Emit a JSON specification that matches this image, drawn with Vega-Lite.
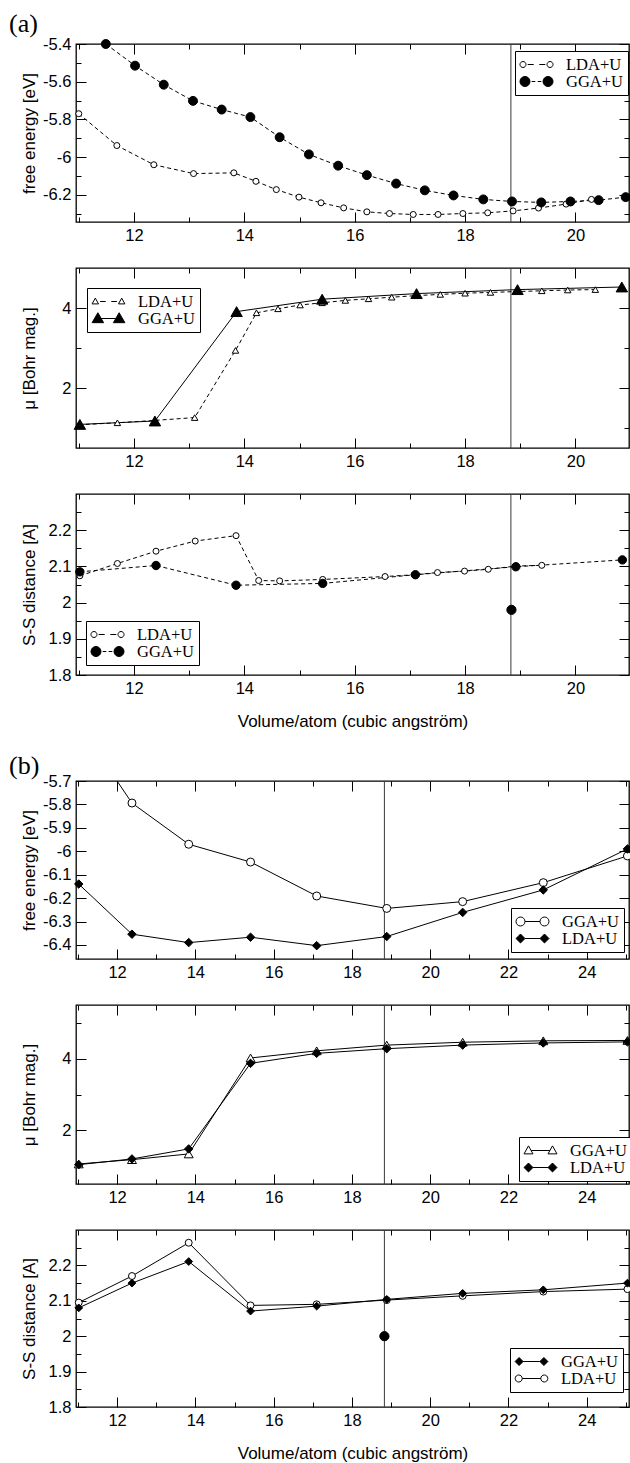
{
  "$schema": "https://vega.github.io/schema/vega-lite/v6.json",
  "background": "white",
  "padding": {"top": 10, "left": 8, "right": 0, "bottom": 0},
  "bounds": "flush",
  "spacing": 46,
  "resolve": {
    "scale": {"shape": "independent", "fill": "independent", "stroke": "independent"},
    "legend": {"shape": "independent", "fill": "independent", "stroke": "independent"}
  },
  "config": {
    "view": {"stroke": "black", "strokeWidth": 1.3},
    "axis": {"domain": false, "grid": false, "offset": -10, "tickSize": 10, "tickColor": "black", "tickWidth": 1, "labelFont": "Liberation Sans", "labelFontSize": 16.5, "labelColor": "black", "labelFlush": false, "labelOverlap": false, "labelPadding": 5, "titleFont": "Liberation Sans", "titleFontSize": 17, "titleFontWeight": "normal", "titleColor": "black"},
    "axisLeft": {"minExtent": 44, "maxExtent": 44, "titlePadding": 4},
    "axisRight": {"minExtent": 0, "maxExtent": 0},
    "axisTop": {"minExtent": 0, "maxExtent": 0},
    "axisBottom": {"minExtent": 34, "maxExtent": 34, "titlePadding": 14},
    "title": {"font": "Liberation Serif", "fontSize": 26, "fontWeight": "normal", "color": "black", "anchor": "start", "frame": "group"},
    "legend": {"orient": "none", "symbolSize": 256, "symbolStrokeWidth": 1, "symbolStrokeColor": "black", "symbolOffset": 8, "labelOffset": 21, "labelFont": "Liberation Serif", "labelFontSize": 16.5, "labelColor": "black", "strokeColor": "black", "fillColor": "white", "padding": 5, "rowPadding": 0, "cornerRadius": 0}
  },
  "datasets": {
    "eq_volume": [{"volume": 18.83}],
    "a_energy": [
      {"method": "LDA+U", "volume": 11.0, "value": -5.77},
      {"method": "LDA+U", "volume": 11.69, "value": -5.939},
      {"method": "LDA+U", "volume": 12.36, "value": -6.041},
      {"method": "LDA+U", "volume": 13.08, "value": -6.088},
      {"method": "LDA+U", "volume": 13.81, "value": -6.084},
      {"method": "LDA+U", "volume": 14.21, "value": -6.129},
      {"method": "LDA+U", "volume": 14.58, "value": -6.173},
      {"method": "LDA+U", "volume": 14.99, "value": -6.213},
      {"method": "LDA+U", "volume": 15.39, "value": -6.243},
      {"method": "LDA+U", "volume": 15.8, "value": -6.27},
      {"method": "LDA+U", "volume": 16.22, "value": -6.291},
      {"method": "LDA+U", "volume": 16.63, "value": -6.3},
      {"method": "LDA+U", "volume": 17.06, "value": -6.305},
      {"method": "LDA+U", "volume": 17.51, "value": -6.305},
      {"method": "LDA+U", "volume": 17.96, "value": -6.3},
      {"method": "LDA+U", "volume": 18.41, "value": -6.296},
      {"method": "LDA+U", "volume": 18.87, "value": -6.286},
      {"method": "LDA+U", "volume": 19.33, "value": -6.271},
      {"method": "LDA+U", "volume": 19.83, "value": -6.25},
      {"method": "LDA+U", "volume": 20.29, "value": -6.225},
      {"method": "GGA+U", "volume": 11.49, "value": -5.4},
      {"method": "GGA+U", "volume": 12.02, "value": -5.515},
      {"method": "GGA+U", "volume": 12.54, "value": -5.616},
      {"method": "GGA+U", "volume": 13.07, "value": -5.702},
      {"method": "GGA+U", "volume": 13.59, "value": -5.748},
      {"method": "GGA+U", "volume": 14.11, "value": -5.788},
      {"method": "GGA+U", "volume": 14.64, "value": -5.895},
      {"method": "GGA+U", "volume": 15.17, "value": -5.986},
      {"method": "GGA+U", "volume": 15.7, "value": -6.046},
      {"method": "GGA+U", "volume": 16.22, "value": -6.096},
      {"method": "GGA+U", "volume": 16.75, "value": -6.141},
      {"method": "GGA+U", "volume": 17.27, "value": -6.177},
      {"method": "GGA+U", "volume": 17.79, "value": -6.204},
      {"method": "GGA+U", "volume": 18.33, "value": -6.225},
      {"method": "GGA+U", "volume": 18.85, "value": -6.236},
      {"method": "GGA+U", "volume": 19.38, "value": -6.241},
      {"method": "GGA+U", "volume": 19.91, "value": -6.236},
      {"method": "GGA+U", "volume": 20.42, "value": -6.229},
      {"method": "GGA+U", "volume": 20.91, "value": -6.213}
    ],
    "a_moment": [
      {"method": "LDA+U", "volume": 11.0, "value": 1.08},
      {"method": "LDA+U", "volume": 11.7, "value": 1.13},
      {"method": "LDA+U", "volume": 12.38, "value": 1.19},
      {"method": "LDA+U", "volume": 13.1, "value": 1.26},
      {"method": "LDA+U", "volume": 13.84, "value": 2.94},
      {"method": "LDA+U", "volume": 14.22, "value": 3.88},
      {"method": "LDA+U", "volume": 14.61, "value": 3.98},
      {"method": "LDA+U", "volume": 15.01, "value": 4.075},
      {"method": "LDA+U", "volume": 15.41, "value": 4.13},
      {"method": "LDA+U", "volume": 15.83, "value": 4.19},
      {"method": "LDA+U", "volume": 16.25, "value": 4.23},
      {"method": "LDA+U", "volume": 16.67, "value": 4.27},
      {"method": "LDA+U", "volume": 17.12, "value": 4.31},
      {"method": "LDA+U", "volume": 17.55, "value": 4.34},
      {"method": "LDA+U", "volume": 18.0, "value": 4.37},
      {"method": "LDA+U", "volume": 18.46, "value": 4.39},
      {"method": "LDA+U", "volume": 18.92, "value": 4.41},
      {"method": "LDA+U", "volume": 19.39, "value": 4.43},
      {"method": "LDA+U", "volume": 19.86, "value": 4.45},
      {"method": "LDA+U", "volume": 20.36, "value": 4.46},
      {"method": "GGA+U", "volume": 11.02, "value": 1.09},
      {"method": "GGA+U", "volume": 12.38, "value": 1.175},
      {"method": "GGA+U", "volume": 13.86, "value": 3.91},
      {"method": "GGA+U", "volume": 15.41, "value": 4.22},
      {"method": "GGA+U", "volume": 17.12, "value": 4.36},
      {"method": "GGA+U", "volume": 18.95, "value": 4.46},
      {"method": "GGA+U", "volume": 20.84, "value": 4.525}
    ],
    "a_ss": [
      {"method": "LDA+U", "volume": 11.02, "value": 2.074},
      {"method": "LDA+U", "volume": 11.7, "value": 2.108},
      {"method": "LDA+U", "volume": 12.4, "value": 2.142},
      {"method": "LDA+U", "volume": 13.11, "value": 2.17},
      {"method": "LDA+U", "volume": 13.85, "value": 2.185},
      {"method": "LDA+U", "volume": 14.26, "value": 2.061},
      {"method": "LDA+U", "volume": 14.64, "value": 2.06},
      {"method": "LDA+U", "volume": 15.42, "value": 2.064},
      {"method": "LDA+U", "volume": 16.55, "value": 2.072},
      {"method": "LDA+U", "volume": 17.08, "value": 2.077},
      {"method": "LDA+U", "volume": 17.5, "value": 2.083},
      {"method": "LDA+U", "volume": 17.99, "value": 2.087},
      {"method": "LDA+U", "volume": 18.42, "value": 2.092},
      {"method": "LDA+U", "volume": 18.92, "value": 2.101},
      {"method": "LDA+U", "volume": 19.39, "value": 2.103},
      {"method": "GGA+U", "volume": 11.02, "value": 2.085},
      {"method": "GGA+U", "volume": 12.4, "value": 2.1025},
      {"method": "GGA+U", "volume": 13.85, "value": 2.048},
      {"method": "GGA+U", "volume": 15.42, "value": 2.053},
      {"method": "GGA+U", "volume": 17.1, "value": 2.077},
      {"method": "GGA+U", "volume": 18.92, "value": 2.099},
      {"method": "GGA+U", "volume": 20.85, "value": 2.118}
    ],
    "a_ss_extra": [{"volume": 18.84, "value": 1.98}],
    "b_energy": [
      {"method": "GGA+U", "volume": 11.02, "value": -5.458},
      {"method": "GGA+U", "volume": 12.38, "value": -5.794},
      {"method": "GGA+U", "volume": 13.83, "value": -5.97},
      {"method": "GGA+U", "volume": 15.41, "value": -6.046},
      {"method": "GGA+U", "volume": 17.1, "value": -6.191},
      {"method": "GGA+U", "volume": 18.89, "value": -6.244},
      {"method": "GGA+U", "volume": 20.83, "value": -6.215},
      {"method": "GGA+U", "volume": 22.89, "value": -6.134},
      {"method": "GGA+U", "volume": 25.04, "value": -6.02},
      {"method": "LDA+U", "volume": 11.02, "value": -6.14},
      {"method": "LDA+U", "volume": 12.38, "value": -6.354},
      {"method": "LDA+U", "volume": 13.83, "value": -6.39},
      {"method": "LDA+U", "volume": 15.41, "value": -6.367},
      {"method": "LDA+U", "volume": 17.1, "value": -6.403},
      {"method": "LDA+U", "volume": 18.89, "value": -6.364},
      {"method": "LDA+U", "volume": 20.83, "value": -6.261},
      {"method": "LDA+U", "volume": 22.89, "value": -6.165},
      {"method": "LDA+U", "volume": 25.04, "value": -5.99}
    ],
    "b_moment": [
      {"method": "GGA+U", "volume": 11.02, "value": 1.06},
      {"method": "GGA+U", "volume": 12.38, "value": 1.18},
      {"method": "GGA+U", "volume": 13.83, "value": 1.34},
      {"method": "GGA+U", "volume": 15.41, "value": 4.02},
      {"method": "GGA+U", "volume": 17.1, "value": 4.22},
      {"method": "GGA+U", "volume": 18.89, "value": 4.38},
      {"method": "GGA+U", "volume": 20.83, "value": 4.46},
      {"method": "GGA+U", "volume": 22.89, "value": 4.5},
      {"method": "GGA+U", "volume": 25.04, "value": 4.51},
      {"method": "LDA+U", "volume": 11.02, "value": 1.04},
      {"method": "LDA+U", "volume": 12.38, "value": 1.2},
      {"method": "LDA+U", "volume": 13.83, "value": 1.48},
      {"method": "LDA+U", "volume": 15.41, "value": 3.87},
      {"method": "LDA+U", "volume": 17.1, "value": 4.15},
      {"method": "LDA+U", "volume": 18.89, "value": 4.28},
      {"method": "LDA+U", "volume": 20.83, "value": 4.38},
      {"method": "LDA+U", "volume": 22.89, "value": 4.44},
      {"method": "LDA+U", "volume": 25.04, "value": 4.47}
    ],
    "b_ss": [
      {"method": "GGA+U", "volume": 11.02, "value": 2.08},
      {"method": "GGA+U", "volume": 12.38, "value": 2.15},
      {"method": "GGA+U", "volume": 13.83, "value": 2.211},
      {"method": "GGA+U", "volume": 15.41, "value": 2.071},
      {"method": "GGA+U", "volume": 17.1, "value": 2.085},
      {"method": "GGA+U", "volume": 18.89, "value": 2.104},
      {"method": "GGA+U", "volume": 20.83, "value": 2.121},
      {"method": "GGA+U", "volume": 22.89, "value": 2.131},
      {"method": "GGA+U", "volume": 25.04, "value": 2.15},
      {"method": "LDA+U", "volume": 11.02, "value": 2.095},
      {"method": "LDA+U", "volume": 12.38, "value": 2.17},
      {"method": "LDA+U", "volume": 13.83, "value": 2.264},
      {"method": "LDA+U", "volume": 15.41, "value": 2.087},
      {"method": "LDA+U", "volume": 17.1, "value": 2.09},
      {"method": "LDA+U", "volume": 18.89, "value": 2.102},
      {"method": "LDA+U", "volume": 20.83, "value": 2.114},
      {"method": "LDA+U", "volume": 22.89, "value": 2.126},
      {"method": "LDA+U", "volume": 25.04, "value": 2.133}
    ],
    "b_ss_extra": [{"volume": 18.83, "value": 2.0}]
  },
  "vconcat": [
    {
      "width": 553, "height": 178,
      "title": {"text": "(a)", "dx": -67, "offset": -1},
      "layer": [
        {"data": {"name": "eq_volume"}, "mark": {"type": "rule", "color": "#3a3a3a", "strokeWidth": 1},
         "encoding": {"x": {"field": "volume", "type": "quantitative", "scale": {"domain": [10.95, 20.97], "nice": false, "zero": false},
           "axis": {"orient": "bottom", "values": [11,12,13,14,15,16,17,18,19,20], "tickDash": {"condition": {"test": "round(datum.value) % 2 === 0", "value": [10, 0]}, "value": [0, 5, 5, 0]}, "labelExpr": "round(datum.value) % 2 === 0 ? '' + datum.value : ''", "title": null}}}},
        {"data": {"name": "a_energy"}, "mark": {"type": "line", "color": "black", "strokeWidth": 1, "strokeDash": [4, 3]},
         "encoding": {
           "x": {"field": "volume", "type": "quantitative", "scale": {"domain": [10.95, 20.97], "nice": false, "zero": false},
             "axis": {"orient": "top", "values": [11,12,13,14,15,16,17,18,19,20], "tickDash": {"condition": {"test": "round(datum.value) % 2 === 0", "value": [10, 0]}, "value": [0, 5, 5, 0]}, "labels": false, "title": null}},
           "y": {"field": "value", "type": "quantitative", "scale": {"domain": [-6.345, -5.4], "nice": false, "zero": false},
             "axis": {"orient": "left", "values": [-6.3,-6.2,-6.1,-6,-5.9,-5.8,-5.7,-5.6,-5.5,-5.4], "tickDash": {"condition": {"test": "round(datum.value * 10) % 2 === 0", "value": [10, 0]}, "value": [0, 5, 5, 0]}, "labelExpr": "round(datum.value * 10) % 2 === 0 ? '' + datum.value : ''", "title": "free energy [eV]"}},
           "detail": {"field": "method", "type": "nominal"}}},
        {"data": {"name": "a_energy"}, "transform": [{"filter": "datum.method === 'LDA+U'"}],
         "mark": {"type": "point", "shape": "circle", "size": 36, "filled": true, "fill": "white", "stroke": "black", "strokeWidth": 1, "opacity": 1},
         "encoding": {
           "x": {"field": "volume", "type": "quantitative", "axis": null},
           "y": {"field": "value", "type": "quantitative",
             "axis": {"orient": "right", "values": [-6.3,-6.2,-6.1,-6,-5.9,-5.8,-5.7,-5.6,-5.5,-5.4], "tickDash": {"condition": {"test": "round(datum.value * 10) % 2 === 0", "value": [10, 0]}, "value": [0, 5, 5, 0]}, "labels": false, "title": null}}}},
        {"data": {"name": "a_energy"}, "transform": [{"filter": "datum.method === 'GGA+U'"}],
         "mark": {"type": "point", "shape": "circle", "size": 80, "filled": true, "fill": "black", "stroke": "black", "strokeWidth": 1, "opacity": 1},
         "encoding": {"x": {"field": "volume", "type": "quantitative", "axis": null}, "y": {"field": "value", "type": "quantitative", "axis": null}}},
        {"data": {"values": []}, "mark": {"type": "point", "filled": true, "stroke": "black", "strokeWidth": 1, "size": 256, "opacity": 1},
         "encoding": {
           "shape": {"field": "method", "type": "nominal", "scale": {"domain": ["LDA+U", "GGA+U"], "range": ["M-2.065,0A0.375 0.375 0 1 0 -1.315,0A0.375 0.375 0 1 0 -2.065,0ZM1.315,0A0.375 0.375 0 1 0 2.065,0A0.375 0.375 0 1 0 1.315,0ZM-1.1,0L-0.35,0M0.35,0L1.1,0", "M-2.065,0A0.625 0.625 0 1 0 -0.815,0A0.625 0.625 0 1 0 -2.065,0ZM0.815,0A0.625 0.625 0 1 0 2.065,0A0.625 0.625 0 1 0 0.815,0ZM-0.6,0L-0.15,0M0.15,0L0.6,0"]},
             "legend": {"title": null, "legendX": 439, "legendY": 7, "symbolStrokeColor": "black"}},
           "fill": {"field": "method", "type": "nominal", "scale": {"domain": ["LDA+U", "GGA+U"], "range": ["white", "black"]},
             "legend": {"title": null, "legendX": 439, "legendY": 7, "symbolStrokeColor": "black"}},
           "stroke": {"field": "method", "type": "nominal", "scale": {"domain": ["LDA+U", "GGA+U"], "range": ["black", "black"]},
             "legend": {"title": null, "legendX": 439, "legendY": 7, "symbolStrokeColor": "black"}}}}
      ],
      "resolve": {"axis": {"x": "independent", "y": "independent"}}
    },
    {
      "width": 553, "height": 180,
      "layer": [
        {"data": {"name": "eq_volume"}, "mark": {"type": "rule", "color": "#3a3a3a", "strokeWidth": 1},
         "encoding": {"x": {"field": "volume", "type": "quantitative", "scale": {"domain": [10.95, 20.97], "nice": false, "zero": false},
           "axis": {"orient": "bottom", "values": [11,12,13,14,15,16,17,18,19,20], "tickDash": {"condition": {"test": "round(datum.value) % 2 === 0", "value": [10, 0]}, "value": [0, 5, 5, 0]}, "labelExpr": "round(datum.value) % 2 === 0 ? '' + datum.value : ''", "title": null}}}},
        {"data": {"name": "a_moment"}, "transform": [{"filter": "datum.method === 'LDA+U'"}],
         "mark": {"type": "line", "color": "black", "strokeWidth": 1, "strokeDash": [4, 3]},
         "encoding": {
           "x": {"field": "volume", "type": "quantitative", "scale": {"domain": [10.95, 20.97], "nice": false, "zero": false},
             "axis": {"orient": "top", "values": [11,12,13,14,15,16,17,18,19,20], "tickDash": {"condition": {"test": "round(datum.value) % 2 === 0", "value": [10, 0]}, "value": [0, 5, 5, 0]}, "labels": false, "title": null}},
           "y": {"field": "value", "type": "quantitative", "scale": {"domain": [0.5, 5], "nice": false, "zero": false},
             "axis": {"orient": "left", "values": [1,2,3,4], "tickDash": {"condition": {"test": "round(datum.value) % 2 === 0", "value": [10, 0]}, "value": [0, 5, 5, 0]}, "labelExpr": "round(datum.value) % 2 === 0 ? '' + datum.value : ''", "title": "μ [Bohr mag.]"}}}},
        {"data": {"name": "a_moment"}, "transform": [{"filter": "datum.method === 'GGA+U'"}],
         "mark": {"type": "line", "color": "black", "strokeWidth": 1},
         "encoding": {"x": {"field": "volume", "type": "quantitative", "axis": null}, "y": {"field": "value", "type": "quantitative", "axis": null}}},
        {"data": {"name": "a_moment"}, "transform": [{"filter": "datum.method === 'LDA+U'"}],
         "mark": {"type": "point", "shape": "triangle-up", "size": 42, "filled": true, "fill": "white", "stroke": "black", "strokeWidth": 1, "opacity": 1},
         "encoding": {
           "x": {"field": "volume", "type": "quantitative", "axis": null},
           "y": {"field": "value", "type": "quantitative",
             "axis": {"orient": "right", "values": [1,2,3,4], "tickDash": {"condition": {"test": "round(datum.value) % 2 === 0", "value": [10, 0]}, "value": [0, 5, 5, 0]}, "labels": false, "title": null}}}},
        {"data": {"name": "a_moment"}, "transform": [{"filter": "datum.method === 'GGA+U'"}],
         "mark": {"type": "point", "shape": "triangle-up", "size": 130, "filled": true, "fill": "black", "stroke": "black", "strokeWidth": 1, "opacity": 1},
         "encoding": {"x": {"field": "volume", "type": "quantitative", "axis": null}, "y": {"field": "value", "type": "quantitative", "axis": null}}},
        {"data": {"values": []}, "mark": {"type": "point", "filled": true, "stroke": "black", "strokeWidth": 1, "size": 256, "opacity": 1},
         "encoding": {
           "shape": {"field": "method", "type": "nominal", "scale": {"domain": ["LDA+U", "GGA+U"], "range": ["M-1.65,-0.42L-1.25,0.3L-2.05,0.3ZM1.65,-0.42L2.05,0.3L1.25,0.3ZM-1.05,0L-0.35,0M0.35,0L1.05,0", "M-1.33,-0.72L-0.61,0.52L-2.05,0.52ZM1.33,-0.72L2.05,0.52L0.61,0.52ZM-1.33,0L1.33,0"]},
             "legend": {"title": null, "legendX": 11, "legendY": 20, "symbolStrokeColor": "black"}},
           "fill": {"field": "method", "type": "nominal", "scale": {"domain": ["LDA+U", "GGA+U"], "range": ["white", "black"]},
             "legend": {"title": null, "legendX": 11, "legendY": 20, "symbolStrokeColor": "black"}},
           "stroke": {"field": "method", "type": "nominal", "scale": {"domain": ["LDA+U", "GGA+U"], "range": ["black", "black"]},
             "legend": {"title": null, "legendX": 11, "legendY": 20, "symbolStrokeColor": "black"}}}}
      ],
      "resolve": {"axis": {"x": "independent", "y": "independent"}}
    },
    {
      "width": 553, "height": 181,
      "layer": [
        {"data": {"name": "eq_volume"}, "mark": {"type": "rule", "color": "#3a3a3a", "strokeWidth": 1},
         "encoding": {"x": {"field": "volume", "type": "quantitative", "scale": {"domain": [10.95, 20.97], "nice": false, "zero": false},
           "axis": {"orient": "bottom", "values": [11,12,13,14,15,16,17,18,19,20], "tickDash": {"condition": {"test": "round(datum.value) % 2 === 0", "value": [10, 0]}, "value": [0, 5, 5, 0]}, "labelExpr": "round(datum.value) % 2 === 0 ? '' + datum.value : ''", "title": "Volume/atom (cubic angström)"}}}},
        {"data": {"name": "a_ss"}, "mark": {"type": "line", "color": "black", "strokeWidth": 1, "strokeDash": [4, 3]},
         "encoding": {
           "x": {"field": "volume", "type": "quantitative", "scale": {"domain": [10.95, 20.97], "nice": false, "zero": false},
             "axis": {"orient": "top", "values": [11,12,13,14,15,16,17,18,19,20], "tickDash": {"condition": {"test": "round(datum.value) % 2 === 0", "value": [10, 0]}, "value": [0, 5, 5, 0]}, "labels": false, "title": null}},
           "y": {"field": "value", "type": "quantitative", "scale": {"domain": [1.8, 2.3], "nice": false, "zero": false},
             "axis": {"orient": "left", "values": [1.8,1.85,1.9,1.95,2,2.05,2.1,2.15,2.2,2.25], "tickDash": {"condition": {"test": "round(datum.value * 100) % 10 === 0", "value": [10, 0]}, "value": [0, 5, 5, 0]}, "labelExpr": "round(datum.value * 100) % 10 === 0 ? '' + datum.value : ''", "title": "S-S distance [A]"}},
           "detail": {"field": "method", "type": "nominal"}}},
        {"data": {"name": "a_ss"}, "transform": [{"filter": "datum.method === 'LDA+U'"}],
         "mark": {"type": "point", "shape": "circle", "size": 36, "filled": true, "fill": "white", "stroke": "black", "strokeWidth": 1, "opacity": 1},
         "encoding": {
           "x": {"field": "volume", "type": "quantitative", "axis": null},
           "y": {"field": "value", "type": "quantitative",
             "axis": {"orient": "right", "values": [1.8,1.85,1.9,1.95,2,2.05,2.1,2.15,2.2,2.25], "tickDash": {"condition": {"test": "round(datum.value * 100) % 10 === 0", "value": [10, 0]}, "value": [0, 5, 5, 0]}, "labels": false, "title": null}}}},
        {"data": {"name": "a_ss"}, "transform": [{"filter": "datum.method === 'GGA+U'"}],
         "mark": {"type": "point", "shape": "circle", "size": 70, "filled": true, "fill": "black", "stroke": "black", "strokeWidth": 1, "opacity": 1},
         "encoding": {"x": {"field": "volume", "type": "quantitative", "axis": null}, "y": {"field": "value", "type": "quantitative", "axis": null}}},
        {"data": {"name": "a_ss_extra"},
         "mark": {"type": "point", "shape": "circle", "size": 85, "filled": true, "fill": "black", "stroke": "black", "strokeWidth": 1, "opacity": 1},
         "encoding": {"x": {"field": "volume", "type": "quantitative", "axis": null}, "y": {"field": "value", "type": "quantitative", "axis": null}}},
        {"data": {"values": []}, "mark": {"type": "point", "filled": true, "stroke": "black", "strokeWidth": 1, "size": 256, "opacity": 1},
         "encoding": {
           "shape": {"field": "method", "type": "nominal", "scale": {"domain": ["LDA+U", "GGA+U"], "range": ["M-2.065,0A0.375 0.375 0 1 0 -1.315,0A0.375 0.375 0 1 0 -2.065,0ZM1.315,0A0.375 0.375 0 1 0 2.065,0A0.375 0.375 0 1 0 1.315,0ZM-1.1,0L-0.35,0M0.35,0L1.1,0", "M-2.065,0A0.625 0.625 0 1 0 -0.815,0A0.625 0.625 0 1 0 -2.065,0ZM0.815,0A0.625 0.625 0 1 0 2.065,0A0.625 0.625 0 1 0 0.815,0ZM-0.6,0L-0.15,0M0.15,0L0.6,0"]},
             "legend": {"title": null, "legendX": 10, "legendY": 127, "symbolStrokeColor": "black"}},
           "fill": {"field": "method", "type": "nominal", "scale": {"domain": ["LDA+U", "GGA+U"], "range": ["white", "black"]},
             "legend": {"title": null, "legendX": 10, "legendY": 127, "symbolStrokeColor": "black"}},
           "stroke": {"field": "method", "type": "nominal", "scale": {"domain": ["LDA+U", "GGA+U"], "range": ["black", "black"]},
             "legend": {"title": null, "legendX": 10, "legendY": 127, "symbolStrokeColor": "black"}}}}
      ],
      "resolve": {"axis": {"x": "independent", "y": "independent"}}
    },
    {
      "width": 553, "height": 14,
      "view": {"stroke": null},
      "data": {"values": []},
      "mark": {"type": "point", "opacity": 0}
    },
    {
      "width": 553, "height": 178,
      "title": {"text": "(b)", "dx": -67, "offset": -5.5},
      "layer": [
        {"data": {"name": "eq_volume"}, "mark": {"type": "rule", "color": "#3a3a3a", "strokeWidth": 1},
         "encoding": {"x": {"field": "volume", "type": "quantitative", "scale": {"domain": [10.95, 25.08], "nice": false, "zero": false},
           "axis": {"orient": "bottom", "values": [11,12,13,14,15,16,17,18,19,20,21,22,23,24,25], "tickDash": {"condition": {"test": "round(datum.value) % 2 === 0", "value": [10, 0]}, "value": [0, 5, 5, 0]}, "labelExpr": "round(datum.value) % 2 === 0 ? '' + datum.value : ''", "title": null}}}},
        {"data": {"name": "b_energy"}, "mark": {"type": "line", "color": "black", "strokeWidth": 1, "clip": true},
         "encoding": {
           "x": {"field": "volume", "type": "quantitative", "scale": {"domain": [10.95, 25.08], "nice": false, "zero": false},
             "axis": {"orient": "top", "values": [11,12,13,14,15,16,17,18,19,20,21,22,23,24,25], "tickDash": {"condition": {"test": "round(datum.value) % 2 === 0", "value": [10, 0]}, "value": [0, 5, 5, 0]}, "labels": false, "title": null}},
           "y": {"field": "value", "type": "quantitative", "scale": {"domain": [-6.46, -5.7], "nice": false, "zero": false},
             "axis": {"orient": "left", "values": [-6.4,-6.3,-6.2,-6.1,-6,-5.9,-5.8,-5.7], "labelExpr": "'' + datum.value", "title": "free energy [eV]"}},
           "detail": {"field": "method", "type": "nominal"}}},
        {"data": {"name": "b_energy"}, "transform": [{"filter": "datum.method === 'GGA+U' && datum.value <= -5.7"}],
         "mark": {"type": "point", "shape": "circle", "size": 64, "filled": true, "fill": "white", "stroke": "black", "strokeWidth": 1, "opacity": 1},
         "encoding": {
           "x": {"field": "volume", "type": "quantitative", "axis": null},
           "y": {"field": "value", "type": "quantitative",
             "axis": {"orient": "right", "values": [-6.4,-6.3,-6.2,-6.1,-6,-5.9,-5.8,-5.7], "labels": false, "title": null}}}},
        {"data": {"name": "b_energy"}, "transform": [{"filter": "datum.method === 'LDA+U'"}],
         "mark": {"type": "point", "shape": "diamond", "size": 72, "filled": true, "fill": "black", "stroke": "black", "strokeWidth": 1, "opacity": 1},
         "encoding": {"x": {"field": "volume", "type": "quantitative", "axis": null}, "y": {"field": "value", "type": "quantitative", "axis": null}}},
        {"data": {"values": []}, "mark": {"type": "point", "filled": true, "stroke": "black", "strokeWidth": 1, "size": 256, "opacity": 1},
         "encoding": {
           "shape": {"field": "method", "type": "nominal", "scale": {"domain": ["GGA+U", "LDA+U"], "range": ["M-2.06,0A0.56 0.56 0 1 0 -0.94,0A0.56 0.56 0 1 0 -2.06,0ZM0.94,0A0.56 0.56 0 1 0 2.06,0A0.56 0.56 0 1 0 0.94,0ZM-0.94,0L0.94,0", "M-2.06,0L-1.5,-0.56L-0.94,0L-1.5,0.56ZM0.94,0L1.5,-0.56L2.06,0L1.5,0.56ZM-0.94,0L0.94,0"]},
             "legend": {"title": null, "legendX": 435, "legendY": 127, "symbolStrokeColor": "black"}},
           "fill": {"field": "method", "type": "nominal", "scale": {"domain": ["GGA+U", "LDA+U"], "range": ["white", "black"]},
             "legend": {"title": null, "legendX": 435, "legendY": 127, "symbolStrokeColor": "black"}},
           "stroke": {"field": "method", "type": "nominal", "scale": {"domain": ["GGA+U", "LDA+U"], "range": ["black", "black"]},
             "legend": {"title": null, "legendX": 435, "legendY": 127, "symbolStrokeColor": "black"}}}}
      ],
      "resolve": {"axis": {"x": "independent", "y": "independent"}}
    },
    {
      "width": 553, "height": 179,
      "layer": [
        {"data": {"name": "eq_volume"}, "mark": {"type": "rule", "color": "#3a3a3a", "strokeWidth": 1},
         "encoding": {"x": {"field": "volume", "type": "quantitative", "scale": {"domain": [10.95, 25.08], "nice": false, "zero": false},
           "axis": {"orient": "bottom", "values": [11,12,13,14,15,16,17,18,19,20,21,22,23,24,25], "tickDash": {"condition": {"test": "round(datum.value) % 2 === 0", "value": [10, 0]}, "value": [0, 5, 5, 0]}, "labelExpr": "round(datum.value) % 2 === 0 ? '' + datum.value : ''", "title": null}}}},
        {"data": {"name": "b_moment"}, "mark": {"type": "line", "color": "black", "strokeWidth": 1},
         "encoding": {
           "x": {"field": "volume", "type": "quantitative", "scale": {"domain": [10.95, 25.08], "nice": false, "zero": false},
             "axis": {"orient": "top", "values": [11,12,13,14,15,16,17,18,19,20,21,22,23,24,25], "tickDash": {"condition": {"test": "round(datum.value) % 2 === 0", "value": [10, 0]}, "value": [0, 5, 5, 0]}, "labels": false, "title": null}},
           "y": {"field": "value", "type": "quantitative", "scale": {"domain": [0.5, 5.5], "nice": false, "zero": false},
             "axis": {"orient": "left", "values": [1,2,3,4,5], "tickDash": {"condition": {"test": "round(datum.value) % 2 === 0", "value": [10, 0]}, "value": [0, 5, 5, 0]}, "labelExpr": "round(datum.value) % 2 === 0 ? '' + datum.value : ''", "title": "μ [Bohr mag.]"}},
           "detail": {"field": "method", "type": "nominal"}}},
        {"data": {"name": "b_moment"}, "transform": [{"filter": "datum.method === 'GGA+U'"}],
         "mark": {"type": "point", "shape": "triangle-up", "size": 80, "filled": true, "fill": "white", "stroke": "black", "strokeWidth": 1, "opacity": 1},
         "encoding": {
           "x": {"field": "volume", "type": "quantitative", "axis": null},
           "y": {"field": "value", "type": "quantitative",
             "axis": {"orient": "right", "values": [1,2,3,4,5], "tickDash": {"condition": {"test": "round(datum.value) % 2 === 0", "value": [10, 0]}, "value": [0, 5, 5, 0]}, "labels": false, "title": null}}}},
        {"data": {"name": "b_moment"}, "transform": [{"filter": "datum.method === 'LDA+U'"}],
         "mark": {"type": "point", "shape": "diamond", "size": 72, "filled": true, "fill": "black", "stroke": "black", "strokeWidth": 1, "opacity": 1},
         "encoding": {"x": {"field": "volume", "type": "quantitative", "axis": null}, "y": {"field": "value", "type": "quantitative", "axis": null}}},
        {"data": {"values": []}, "mark": {"type": "point", "filled": true, "stroke": "black", "strokeWidth": 1, "size": 256, "opacity": 1},
         "encoding": {
           "shape": {"field": "method", "type": "nominal", "scale": {"domain": ["GGA+U", "LDA+U"], "range": ["M-1.5,-0.58L-0.94,0.42L-2.06,0.42ZM1.5,-0.58L2.06,0.42L0.94,0.42ZM-1.17,0L1.17,0", "M-2.06,0L-1.5,-0.56L-0.94,0L-1.5,0.56ZM0.94,0L1.5,-0.56L2.06,0L1.5,0.56ZM-0.94,0L0.94,0"]},
             "legend": {"title": null, "legendX": 443, "legendY": 132, "symbolStrokeColor": "black"}},
           "fill": {"field": "method", "type": "nominal", "scale": {"domain": ["GGA+U", "LDA+U"], "range": ["white", "black"]},
             "legend": {"title": null, "legendX": 443, "legendY": 132, "symbolStrokeColor": "black"}},
           "stroke": {"field": "method", "type": "nominal", "scale": {"domain": ["GGA+U", "LDA+U"], "range": ["black", "black"]},
             "legend": {"title": null, "legendX": 443, "legendY": 132, "symbolStrokeColor": "black"}}}}
      ],
      "resolve": {"axis": {"x": "independent", "y": "independent"}}
    },
    {
      "width": 553, "height": 177,
      "layer": [
        {"data": {"name": "eq_volume"}, "mark": {"type": "rule", "color": "#3a3a3a", "strokeWidth": 1},
         "encoding": {"x": {"field": "volume", "type": "quantitative", "scale": {"domain": [10.95, 25.08], "nice": false, "zero": false},
           "axis": {"orient": "bottom", "values": [11,12,13,14,15,16,17,18,19,20,21,22,23,24,25], "tickDash": {"condition": {"test": "round(datum.value) % 2 === 0", "value": [10, 0]}, "value": [0, 5, 5, 0]}, "labelExpr": "round(datum.value) % 2 === 0 ? '' + datum.value : ''", "title": "Volume/atom (cubic angström)"}}}},
        {"data": {"name": "b_ss"}, "mark": {"type": "line", "color": "black", "strokeWidth": 1},
         "encoding": {
           "x": {"field": "volume", "type": "quantitative", "scale": {"domain": [10.95, 25.08], "nice": false, "zero": false},
             "axis": {"orient": "top", "values": [11,12,13,14,15,16,17,18,19,20,21,22,23,24,25], "tickDash": {"condition": {"test": "round(datum.value) % 2 === 0", "value": [10, 0]}, "value": [0, 5, 5, 0]}, "labels": false, "title": null}},
           "y": {"field": "value", "type": "quantitative", "scale": {"domain": [1.8, 2.3], "nice": false, "zero": false},
             "axis": {"orient": "left", "values": [1.8,1.85,1.9,1.95,2,2.05,2.1,2.15,2.2,2.25], "tickDash": {"condition": {"test": "round(datum.value * 100) % 10 === 0", "value": [10, 0]}, "value": [0, 5, 5, 0]}, "labelExpr": "round(datum.value * 100) % 10 === 0 ? '' + datum.value : ''", "title": "S-S distance [A]"}},
           "detail": {"field": "method", "type": "nominal"}}},
        {"data": {"name": "b_ss"}, "transform": [{"filter": "datum.method === 'LDA+U'"}],
         "mark": {"type": "point", "shape": "circle", "size": 48, "filled": true, "fill": "white", "stroke": "black", "strokeWidth": 1, "opacity": 1},
         "encoding": {
           "x": {"field": "volume", "type": "quantitative", "axis": null},
           "y": {"field": "value", "type": "quantitative",
             "axis": {"orient": "right", "values": [1.8,1.85,1.9,1.95,2,2.05,2.1,2.15,2.2,2.25], "tickDash": {"condition": {"test": "round(datum.value * 100) % 10 === 0", "value": [10, 0]}, "value": [0, 5, 5, 0]}, "labels": false, "title": null}}}},
        {"data": {"name": "b_ss"}, "transform": [{"filter": "datum.method === 'GGA+U'"}],
         "mark": {"type": "point", "shape": "diamond", "size": 60, "filled": true, "fill": "black", "stroke": "black", "strokeWidth": 1, "opacity": 1},
         "encoding": {"x": {"field": "volume", "type": "quantitative", "axis": null}, "y": {"field": "value", "type": "quantitative", "axis": null}}},
        {"data": {"name": "b_ss_extra"},
         "mark": {"type": "point", "shape": "circle", "size": 85, "filled": true, "fill": "black", "stroke": "black", "strokeWidth": 1, "opacity": 1},
         "encoding": {"x": {"field": "volume", "type": "quantitative", "axis": null}, "y": {"field": "value", "type": "quantitative", "axis": null}}},
        {"data": {"values": []}, "mark": {"type": "point", "filled": true, "stroke": "black", "strokeWidth": 1, "size": 256, "opacity": 1},
         "encoding": {
           "shape": {"field": "method", "type": "nominal", "scale": {"domain": ["GGA+U", "LDA+U"], "range": ["M-2.05,0L-1.55,-0.5L-1.05,0L-1.55,0.5ZM1.05,0L1.55,-0.5L2.05,0L1.55,0.5ZM-1.05,0L1.05,0", "M-2.04,0A0.44 0.44 0 1 0 -1.16,0A0.44 0.44 0 1 0 -2.04,0ZM1.16,0A0.44 0.44 0 1 0 2.04,0A0.44 0.44 0 1 0 1.16,0ZM-1.16,0L1.16,0"]},
             "legend": {"title": null, "legendX": 434, "legendY": 118, "symbolStrokeColor": "black"}},
           "fill": {"field": "method", "type": "nominal", "scale": {"domain": ["GGA+U", "LDA+U"], "range": ["black", "white"]},
             "legend": {"title": null, "legendX": 434, "legendY": 118, "symbolStrokeColor": "black"}},
           "stroke": {"field": "method", "type": "nominal", "scale": {"domain": ["GGA+U", "LDA+U"], "range": ["black", "black"]},
             "legend": {"title": null, "legendX": 434, "legendY": 118, "symbolStrokeColor": "black"}}}}
      ],
      "resolve": {"axis": {"x": "independent", "y": "independent"}}
    }
  ]
}
